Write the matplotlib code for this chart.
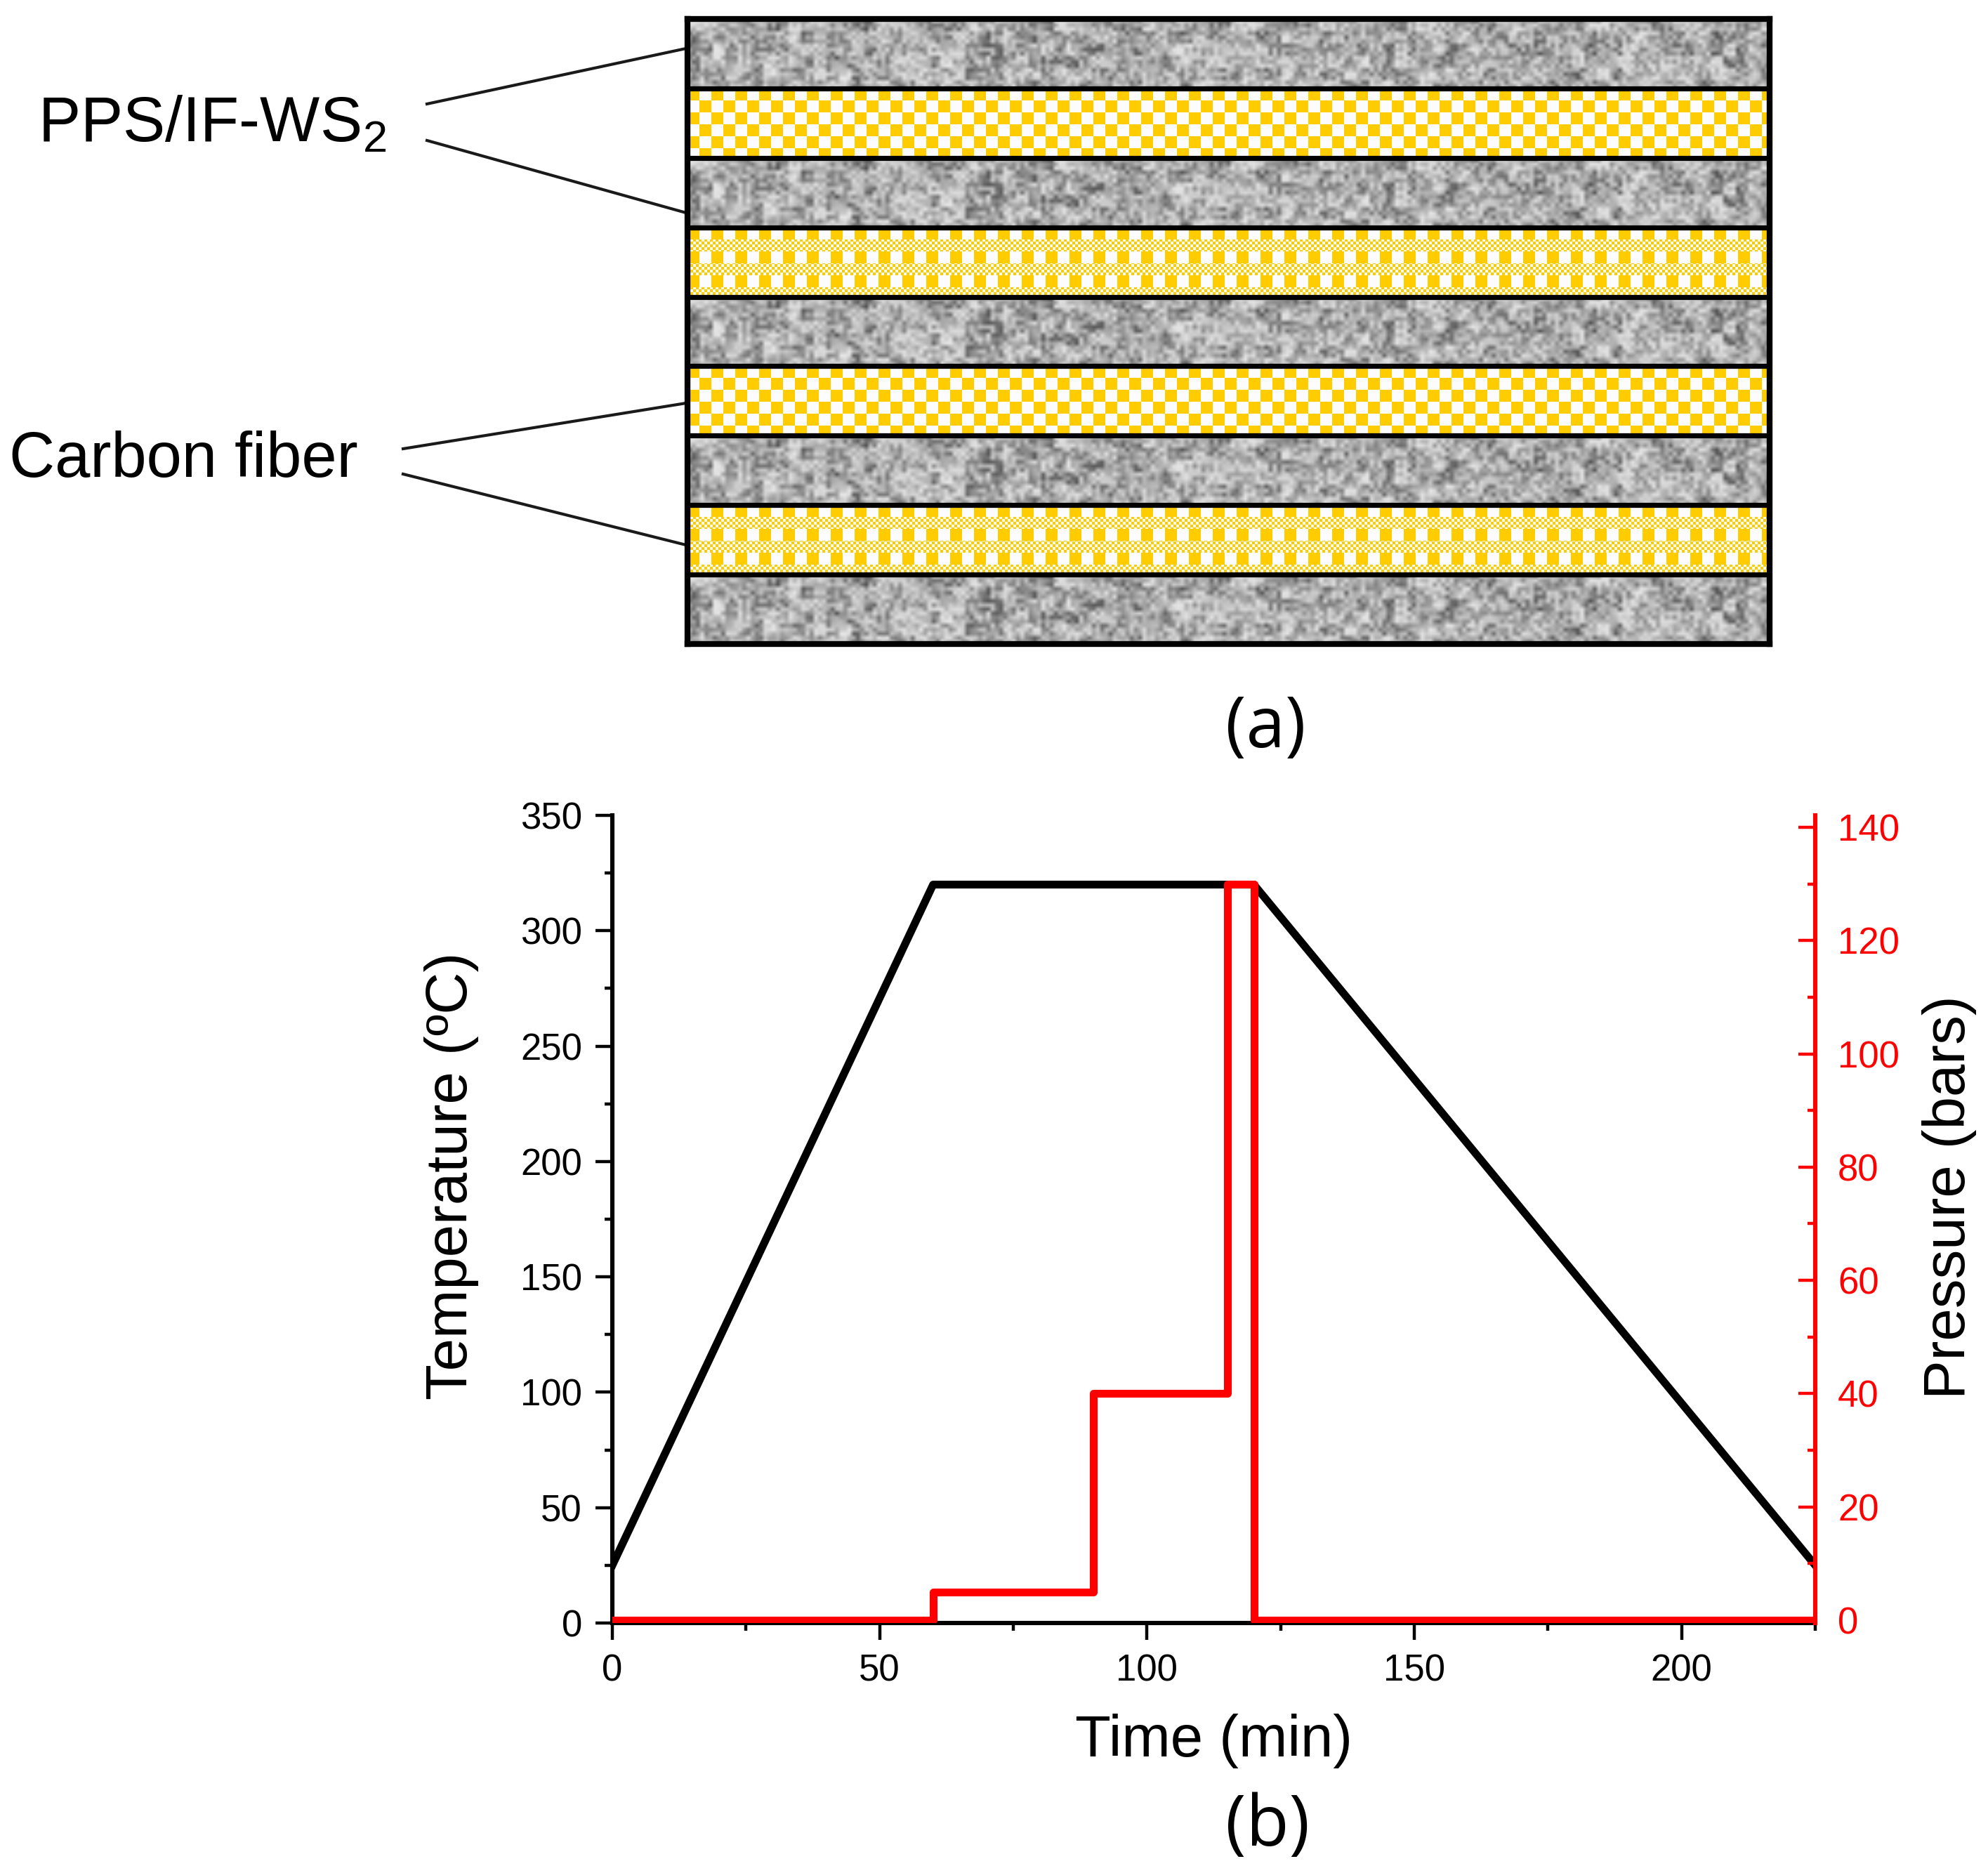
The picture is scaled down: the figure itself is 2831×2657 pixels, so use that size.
import numpy as np
import matplotlib.pyplot as plt
from matplotlib.ticker import MultipleLocator

plt.rcParams['font.family'] = ['Liberation Sans', 'DejaVu Sans']
plt.rcParams['mathtext.fontset'] = 'custom'
plt.rcParams['mathtext.rm'] = 'Liberation Sans'

# ---- (b) processing cycle ----
time_temp = [0, 60, 120, 225]          # min
temp_c = [25, 320, 320, 25]            # deg C

time_pres = [0, 60, 90, 115, 120, 225]  # min (step starts)
pres_bar = [0, 5, 40, 130, 0, 0]        # bars

# ---- (a) laminate stacking ----
layers = ['matrix', 'fiber', 'matrix', 'fiber', 'matrix',
          'fiber', 'matrix', 'fiber', 'matrix']
fiber_weave = ['plain', 'fine', 'plain', 'fine']

W, H = 2831, 2657
dpi = 200
fig = plt.figure(figsize=(W / dpi, H / dpi), dpi=dpi)

# overlay in pixel coords for labels / leader lines
ov = fig.add_axes([0, 0, 1, 1])
ov.set_xlim(0, W)
ov.set_ylim(H, 0)
ov.axis('off')

# ---- laminate box ----
box_w = 1541
layer_h = 99
box = fig.add_axes([979 / W, 1 - 917 / H, box_w / W, 890 / H])

def grain(rows, cols, a, b):
    # integer hash -> pseudo noise texture for the matrix layers
    i, j = np.mgrid[0:rows, 0:cols].astype(np.int64)
    h = (i * a) ^ (j * b) ^ ((i * j * 83492791) >> 3)
    return (h % 1009) / 1008.0

fine = grain(17, 257, 73856093, 19349663)
coarse = np.kron(grain(6, 86, 2654435761, 40503), np.ones((3, 3)))[:17, :257]
val = 0.55 * fine + 0.45 * coarse
gray_tex = 0.9 - 0.6 * val ** 1.5

yellow = np.array([1.0, 0.80, 0.0])
white = np.array([0.99, 0.99, 0.99])
yy, xx = np.mgrid[0:layer_h, 0:box_w]
cell = 17
plain = ((yy // cell) + (xx // cell)) % 2 == 0
band = (yy // cell) % 2
fine_chk = np.where(band == 0, (xx // cell) % 2 == 0,
                    ((yy // 4) + (xx // 4)) % 2 == 0)

fi = 0
for k, kind in enumerate(layers):
    ext = (0, box_w, (k + 1) * layer_h, k * layer_h)
    if kind == 'matrix':
        box.imshow(gray_tex, cmap='gray', vmin=0, vmax=1, extent=ext,
                   interpolation='bilinear', aspect='auto')
    else:
        mask = plain if fiber_weave[fi] == 'plain' else fine_chk
        fi += 1
        rgb = np.where(mask[..., None], yellow, white)
        box.imshow(rgb, extent=ext, interpolation='nearest', aspect='auto')

for k in range(1, len(layers)):
    box.axhline(k * layer_h, color='black', lw=2.6)
box.set_xlim(0, box_w)
box.set_ylim(len(layers) * layer_h, 0)
box.set_xticks([])
box.set_yticks([])
for s in box.spines.values():
    s.set_linewidth(3)
    s.set_color('black')

# labels and leader lines
ov.text(54, 201, r'PPS/IF-WS$_\mathregular{2}$', fontsize=32.5, ha='left', va='baseline')
ov.text(13, 679, 'Carbon fiber', fontsize=32.5, ha='left', va='baseline')
ov.plot([608, 977], [148, 69], color='#1a1a1a', lw=1.5)
ov.plot([608, 977], [200, 303], color='#1a1a1a', lw=1.5)
ov.plot([574, 977], [639, 574], color='#1a1a1a', lw=1.5)
ov.plot([574, 977], [675, 776], color='#1a1a1a', lw=1.5)
ov.text(1802, 1038, '(a)', fontsize=36, ha='center', va='center', family='Open Sans')
ov.text(1805, 2602, '(b)', fontsize=36, ha='center', va='center', family='Open Sans')

# ---- temperature / pressure chart ----
ax = fig.add_axes([872 / W, 1 - 2311 / H, 1713 / W, 1150 / H])
ax.plot(time_temp, temp_c, color='black', lw=4)
ax.set_xlim(0, 225)
ax.set_ylim(0, 350)
ax.xaxis.set_major_locator(MultipleLocator(50))
ax.xaxis.set_minor_locator(MultipleLocator(25))
ax.yaxis.set_major_locator(MultipleLocator(50))
ax.yaxis.set_minor_locator(MultipleLocator(25))
ax.spines['top'].set_visible(False)
ax.spines['right'].set_visible(False)
ax.spines['left'].set_linewidth(2.2)
ax.spines['bottom'].set_linewidth(2.2)
ax.tick_params(which='major', direction='out', length=8.5, width=1.6, labelsize=19, pad=7)
ax.tick_params(which='minor', direction='out', length=4, width=1.6)
ax.set_xlabel('Time (min)', fontsize=30)
ax.xaxis.set_label_coords(0.5, -0.112)
ax.set_ylabel('Temperature (ºC)', fontsize=30)
ax.yaxis.set_label_coords(-0.111, 0.554)

ax2 = ax.twinx()
ax2.plot(time_pres, pres_bar, drawstyle='steps-post', color='red', lw=4)
ax2.set_ylim(-0.5, 142.1)
ax2.yaxis.set_major_locator(MultipleLocator(20))
ax2.yaxis.set_minor_locator(MultipleLocator(10))
for side in ['top', 'left', 'bottom']:
    ax2.spines[side].set_visible(False)
ax2.spines['right'].set_color('red')
ax2.spines['right'].set_linewidth(2.2)
ax2.tick_params(axis='y', which='major', direction='in', length=8.5, width=1.6,
                colors='red', labelsize=19, pad=11.5)
ax2.tick_params(axis='y', which='minor', direction='in', length=4, width=1.6, colors='red')
ax2.set_ylabel('Pressure (bars)', fontsize=30, color='black')
ax2.yaxis.set_label_coords(1.089, 0.527)

fig.savefig('out.png', dpi=dpi)
